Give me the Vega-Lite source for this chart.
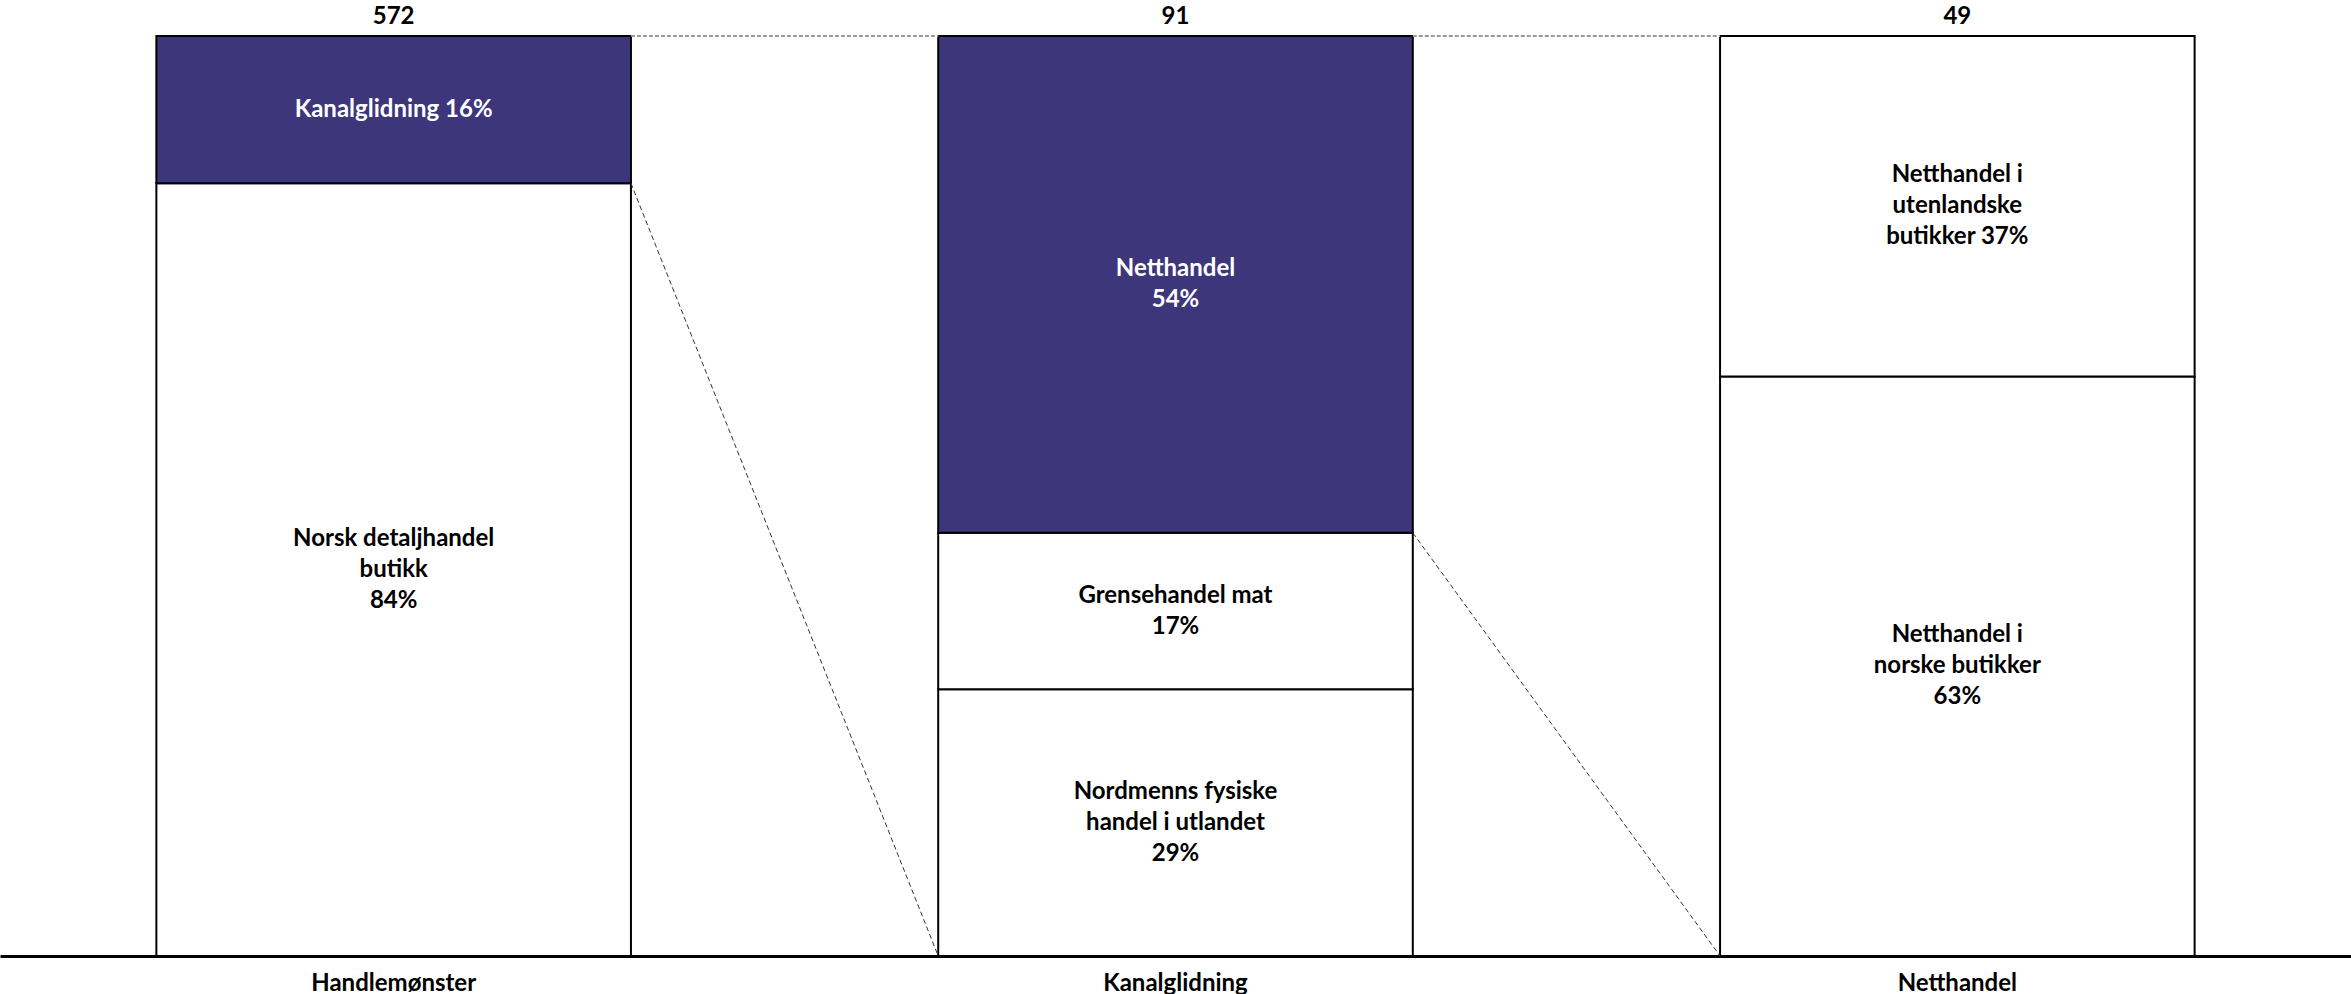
{
  "$schema": "https://vega.github.io/schema/vega-lite/v6.json",
  "width": 2351,
  "height": 920,
  "autosize": {"type": "none"},
  "padding": {"left": 0, "right": 0, "top": 36, "bottom": 38},
  "background": "white",
  "config": {"view": {"stroke": null}, "font": "Lato"},
  "datasets": {
    "segmenter": [
      {"gruppe": "Handlemønster", "nr": 1, "andel": 84, "utvidet": "nei", "linjer": 3, "etikett": "Norsk detaljhandel\nbutikk\n84%"},
      {"gruppe": "Handlemønster", "nr": 2, "andel": 16, "utvidet": "ja", "linjer": 1, "etikett": "Kanalglidning 16%"},
      {"gruppe": "Kanalglidning", "nr": 1, "andel": 29, "utvidet": "nei", "linjer": 3, "etikett": "Nordmenns fysiske\nhandel i utlandet\n29%"},
      {"gruppe": "Kanalglidning", "nr": 2, "andel": 17, "utvidet": "nei", "linjer": 2, "etikett": "Grensehandel mat\n17%"},
      {"gruppe": "Kanalglidning", "nr": 3, "andel": 54, "utvidet": "ja", "linjer": 2, "etikett": "Netthandel\n54%"},
      {"gruppe": "Netthandel", "nr": 1, "andel": 63, "utvidet": "nei", "linjer": 3, "etikett": "Netthandel i\nnorske butikker\n63%"},
      {"gruppe": "Netthandel", "nr": 2, "andel": 37, "utvidet": "nei", "linjer": 3, "etikett": "Netthandel i\nutenlandske\nbutikker 37%"}
    ],
    "totaler": [
      {"gruppe": "Handlemønster", "antall": 572},
      {"gruppe": "Kanalglidning", "antall": 91},
      {"gruppe": "Netthandel", "antall": 49}
    ],
    "topplinjer": [
      {"fra": "Handlemønster", "til": "Kanalglidning", "y_fra": 100, "y_til": 100},
      {"fra": "Kanalglidning", "til": "Netthandel", "y_fra": 100, "y_til": 100}
    ],
    "skraalinjer": [
      {"fra": "Handlemønster", "til": "Kanalglidning", "y_fra": 84, "y_til": 0},
      {"fra": "Kanalglidning", "til": "Netthandel", "y_fra": 46, "y_til": 0}
    ]
  },
  "layer": [
    {
      "data": {"name": "segmenter"},
      "mark": {"type": "bar", "stroke": "black", "strokeWidth": 2},
      "encoding": {
        "x": {
          "field": "gruppe",
          "type": "nominal",
          "scale": {"domain": ["Handlemønster", "Kanalglidning", "Netthandel"], "paddingInner": 0.393, "paddingOuter": 0.2},
          "axis": {
            "title": null,
            "ticks": false,
            "labelAngle": 0,
            "labelFont": "Lato",
            "labelFontWeight": "bold",
            "labelFontSize": 24,
            "labelColor": "black",
            "labelPadding": 15,
            "domainColor": "black",
            "domainWidth": 3
          }
        },
        "y": {"field": "andel", "type": "quantitative", "stack": "zero", "scale": {"domain": [0, 100], "nice": false}, "axis": null},
        "order": {"field": "nr", "type": "quantitative"},
        "fill": {"condition": {"test": "datum.utvidet === 'ja'", "value": "#3D367B"}, "value": "#FFFFFF"}
      }
    },
    {
      "data": {"name": "topplinjer"},
      "mark": {"type": "rule", "color": "#9a9a9a", "strokeWidth": 2, "strokeDash": [4, 2]},
      "encoding": {
        "x": {"field": "fra", "type": "nominal", "bandPosition": 1},
        "x2": {"field": "til", "bandPosition": 0},
        "y": {"field": "y_fra", "type": "quantitative"},
        "y2": {"field": "y_til"}
      }
    },
    {
      "data": {"name": "skraalinjer"},
      "mark": {"type": "rule", "color": "#333333", "strokeWidth": 1, "strokeDash": [5, 3]},
      "encoding": {
        "x": {"field": "fra", "type": "nominal", "bandPosition": 1},
        "x2": {"field": "til", "bandPosition": 0},
        "y": {"field": "y_fra", "type": "quantitative"},
        "y2": {"field": "y_til"}
      }
    },
    {
      "data": {"name": "segmenter"},
      "transform": [
        {"stack": "andel", "groupby": ["gruppe"], "sort": [{"field": "nr"}], "as": ["y0", "y1"]},
        {"calculate": "(datum.y0 + datum.y1) / 2", "as": "midt"},
        {"filter": "datum.linjer === 1"}
      ],
      "mark": {"type": "text", "font": "Lato", "fontWeight": "bold", "fontSize": 24, "lineBreak": "\n", "lineHeight": 31, "align": "center", "baseline": "middle"},
      "encoding": {
        "x": {"field": "gruppe", "type": "nominal"},
        "y": {"field": "midt", "type": "quantitative"},
        "text": {"field": "etikett", "type": "nominal"},
        "color": {"condition": {"test": "datum.utvidet === 'ja'", "value": "white"}, "value": "black"}
      }
    },
    {
      "data": {"name": "segmenter"},
      "transform": [
        {"stack": "andel", "groupby": ["gruppe"], "sort": [{"field": "nr"}], "as": ["y0", "y1"]},
        {"calculate": "(datum.y0 + datum.y1) / 2", "as": "midt"},
        {"filter": "datum.linjer === 2"}
      ],
      "mark": {"type": "text", "font": "Lato", "fontWeight": "bold", "fontSize": 24, "lineBreak": "\n", "lineHeight": 31, "align": "center", "baseline": "middle", "dy": -15.5},
      "encoding": {
        "x": {"field": "gruppe", "type": "nominal"},
        "y": {"field": "midt", "type": "quantitative"},
        "text": {"field": "etikett", "type": "nominal"},
        "color": {"condition": {"test": "datum.utvidet === 'ja'", "value": "white"}, "value": "black"}
      }
    },
    {
      "data": {"name": "segmenter"},
      "transform": [
        {"stack": "andel", "groupby": ["gruppe"], "sort": [{"field": "nr"}], "as": ["y0", "y1"]},
        {"calculate": "(datum.y0 + datum.y1) / 2", "as": "midt"},
        {"filter": "datum.linjer === 3"}
      ],
      "mark": {"type": "text", "font": "Lato", "fontWeight": "bold", "fontSize": 24, "lineBreak": "\n", "lineHeight": 31, "align": "center", "baseline": "middle", "dy": -31},
      "encoding": {
        "x": {"field": "gruppe", "type": "nominal"},
        "y": {"field": "midt", "type": "quantitative"},
        "text": {"field": "etikett", "type": "nominal"},
        "color": {"condition": {"test": "datum.utvidet === 'ja'", "value": "white"}, "value": "black"}
      }
    },
    {
      "data": {"name": "totaler"},
      "mark": {"type": "text", "font": "Lato", "fontWeight": "bold", "fontSize": 24, "baseline": "middle", "align": "center", "dy": -19, "color": "black"},
      "encoding": {
        "x": {"field": "gruppe", "type": "nominal"},
        "y": {"datum": 100, "type": "quantitative"},
        "text": {"field": "antall", "type": "quantitative"}
      }
    }
  ]
}
